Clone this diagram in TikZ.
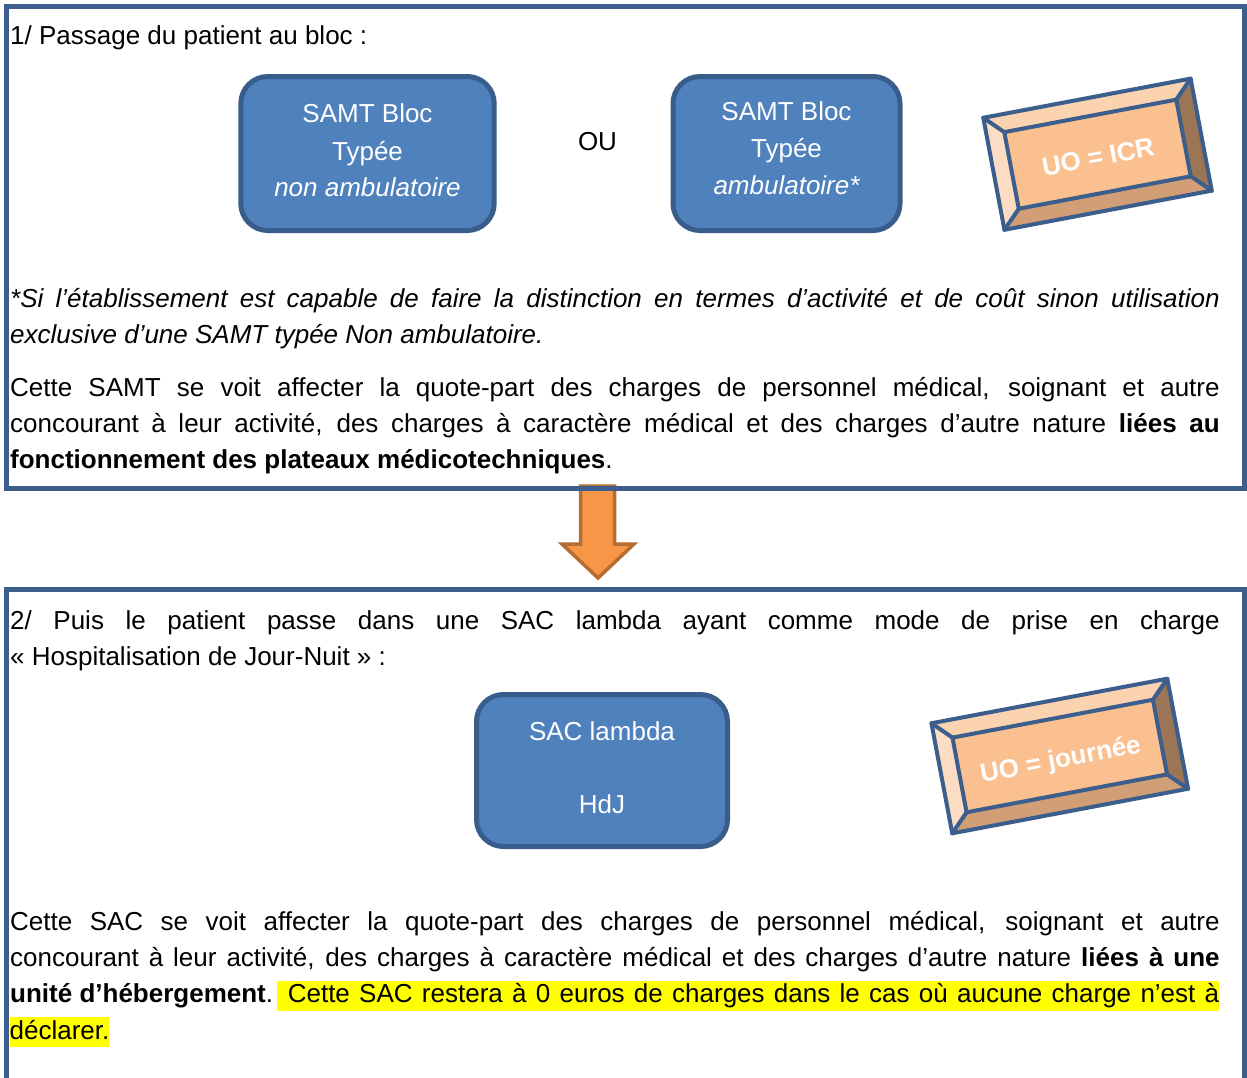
\documentclass[tikz,border=0pt]{standalone}
\usepackage{fontspec}
\setmainfont{Liberation Sans}
\definecolor{frameblue}{HTML}{3B5E8C}
\definecolor{boxfill}{HTML}{4F81BD}
\definecolor{boxline}{HTML}{385D8A}
\definecolor{arrfill}{HTML}{F79646}
\definecolor{arrline}{HTML}{B66D31}
\definecolor{bvcenter}{HTML}{FAC090}
\definecolor{bvtop}{HTML}{FBD3B0}
\definecolor{bvleft}{HTML}{FDDCC4}
\definecolor{bvright}{HTML}{9C7456}
\definecolor{bvbottom}{HTML}{D29E76}
\definecolor{hiyellow}{HTML}{FFFF00}
\newcommand\jline[1]{\makebox[1209.5pt][s]{#1}}
% bevel: cx, cy, angle, half width, half height, name, text, text y offset
\newcommand\bevelbox[8]{%
\begin{scope}[shift={(#1,#2)}, rotate=#3]
  \fill[bvtop] (-#4,-#5) -- (#4,-#5) -- (#4-18,-#5+18) -- (-#4+18,-#5+18) -- cycle;
  \fill[bvright] (#4,-#5) -- (#4,#5) -- (#4-18,#5-18) -- (#4-18,-#5+18) -- cycle;
  \fill[bvbottom] (#4,#5) -- (-#4,#5) -- (-#4+18,#5-18) -- (#4-18,#5-18) -- cycle;
  \fill[bvleft] (-#4,#5) -- (-#4,-#5) -- (-#4+18,-#5+18) -- (-#4+18,#5-18) -- cycle;
  \fill[bvcenter] (-#4+18,-#5+18) rectangle (#4-18,#5-18);
  \draw[bevline] (-#4,-#5) rectangle (#4,#5);
  \draw[bevline] (-#4+18,-#5+18) rectangle (#4-18,#5-18);
  \draw[bevline] (-#4,-#5) -- (-#4+18,-#5+18);
  \draw[bevline] (#4,-#5) -- (#4-18,-#5+18);
  \draw[bevline] (#4,#5) -- (#4-18,#5-18);
  \draw[bevline] (-#4,#5) -- (-#4+18,#5-18);
  \node[transform shape, text=white, font=\fontsize{26pt}{36pt}\selectfont\bfseries, inner sep=0] (#6) at (0,#8) {#7};
\end{scope}}
\begin{document}
\begin{tikzpicture}[x=1pt,y=-1pt,
  font=\fontsize{26pt}{36pt}\selectfont,
  txt/.style={anchor=base west, inner sep=0},
  btxt/.style={anchor=base, inner sep=0, text=white},
  roundbox/.style={draw=boxline, fill=boxfill, line width=5pt, rounded corners=27pt},
  bevline/.style={draw=frameblue, line width=4pt, line join=round, line cap=round},
  frameline/.style={draw=frameblue, line width=5pt},
  hl/.style={fill=hiyellow, inner sep=0, text height=22pt, text depth=8pt}]
\useasboundingbox (0,0) rectangle (1247,1077);
\fill[white] (0,0) rectangle (1247,1077);

% arrow between frames
\draw[fill=arrfill, draw=arrline, line width=3.5pt, line join=miter]
  (580.5,486) -- (580.5,544) -- (562,544) -- (598,578) -- (634,544) -- (614.5,544) -- (614.5,486) -- cycle;

% frames
\draw[frameline] (6.5,6.5) rectangle (1244,488);
\draw[frameline] (6.5,1085) -- (6.5,589.5) -- (1244.5,589.5) -- (1244.5,1085);

% part 1
\node[txt] (t1) at (10,44) {1/ Passage du patient au bloc :};

\node[roundbox, minimum width=253.4pt, minimum height=154pt] (b1) at (367.5,153.5) {};
\node[btxt] (b1a) at (367.5,122.7) {SAMT Bloc};
\node[btxt] (b1b) at (367.5,160) {Typée};
\node[btxt] (b1c) at (367.5,196.7) {\itshape non ambulatoire};

\node[anchor=base, inner sep=0] (ou) at (597.5,150) {OU};

\node[roundbox, minimum width=227pt, minimum height=154pt] (b2) at (786.5,153.5) {};
\node[btxt] (b2a) at (786.5,120) {SAMT Bloc};
\node[btxt] (b2b) at (786.5,157.3) {Typée};
\node[btxt] (b2c) at (786.5,194) {\itshape ambulatoire*};

\bevelbox{1097.5}{154.2}{10.7}{105.5}{57}{uo1}{UO = ICR}{3}

\node[txt] (p1a) at (10,307.3) {\itshape\jline{*Si l’établissement est capable de faire la distinction en termes d’activité et de coût sinon utilisation}};
\node[txt] (p1b) at (10,343.3) {\itshape exclusive d’une SAMT typée Non ambulatoire.};

\node[txt] (p2a) at (10,396.7) {\jline{Cette SAMT se voit affecter la quote-part des charges de personnel médical, soignant et autre}};
\node[txt] (p2b) at (10,432.5) {\jline{concourant à leur activité, des charges à caractère médical et des charges d’autre nature \textbf{liées au}}};
\node[txt] (p2c) at (10,468.3) {\textbf{fonctionnement des plateaux médicotechniques}.};

% part 2
\node[txt] (p3a) at (10,629.5) {\jline{2/ Puis le patient passe dans une SAC lambda ayant comme mode de prise en charge}};
\node[txt] (p3b) at (10,665.7) {« Hospitalisation de Jour-Nuit » :};

\node[roundbox, minimum width=251pt, minimum height=152pt] (b3) at (602,770.5) {};
\node[btxt] (b3a) at (602,740.3) {SAC lambda};
\node[btxt] (b3b) at (602,813.3) {HdJ};

\bevelbox{1059.75}{756}{10.7}{120}{56}{uo2}{UO = journée}{5}

\node[txt] (p4a) at (10,930.7) {\jline{Cette SAC se voit affecter la quote-part des charges de personnel médical, soignant et autre}};
\node[txt] (p4b) at (10,966.7) {\jline{concourant à leur activité, des charges à caractère médical et des charges d’autre nature \textbf{liées à une}}};
\node[txt] (p4c) at (10,1002.7) {\textbf{unité d’hébergement}.};
\node[hl, anchor=base east] (p4d) at (1219.5,1002.7) {\hspace*{11pt}\makebox[931.5pt][s]{Cette SAC restera à 0 euros de charges dans le cas où aucune charge n’est à}};
\node[hl, anchor=base west] (p4e) at (9.5,1039.3) {déclarer.};
\end{tikzpicture}
\end{document}
